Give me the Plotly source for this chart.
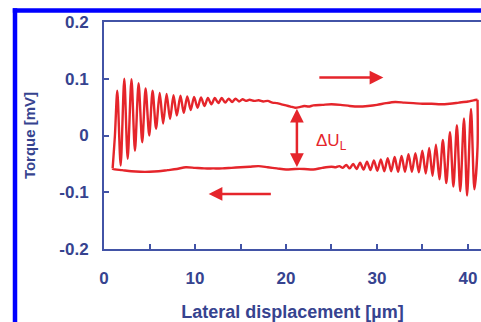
import plotly.graph_objects as go

# ---------------- data ----------------
# forward scan (upper branch), x in µm, torque in mV
fwd_x = [0.95, 1.2, 1.46, 1.83, 2.23, 2.6, 3.02, 3.4, 3.8, 4.2, 4.57, 4.97, 5.34, 5.72,
         6.12, 6.5, 6.88, 7.26, 7.64, 8.0, 8.4, 8.77, 9.15, 9.53, 9.9, 10.28, 10.66,
         11.04, 11.42, 11.8, 12.18, 12.56, 12.94, 13.32, 13.7, 14.08, 14.46, 14.84,
         15.22, 15.6, 16.0, 16.5, 17.0, 17.5, 18.0, 18.5, 19.0, 19.5, 20.0, 20.5, 21.0,
         21.5, 22.0, 22.5, 23.0, 24.0, 25.0, 26.0, 27.0, 28.0, 29.0, 30.0, 31.0, 32.0,
         33.0, 34.0, 35.0, 36.0, 37.0, 38.0, 39.0, 40.0, 40.6, 41.05]
fwd_y = [-0.058, 0.0, 0.079, -0.053, 0.100, -0.041, 0.099, -0.027, 0.092, -0.012, 0.083,
         0.0, 0.079, 0.012, 0.075, 0.021, 0.073, 0.029, 0.071, 0.035, 0.070, 0.040, 0.069,
         0.045, 0.068, 0.049, 0.067, 0.052, 0.066, 0.055, 0.066, 0.057, 0.066, 0.058,
         0.065, 0.059, 0.065, 0.060, 0.064, 0.061, 0.063, 0.061, 0.062, 0.060, 0.061,
         0.058, 0.057, 0.055, 0.053, 0.051, 0.049, 0.050, 0.052, 0.051, 0.053, 0.054,
         0.055, 0.054, 0.052, 0.051, 0.052, 0.054, 0.057, 0.059, 0.058, 0.057, 0.056,
         0.056, 0.055, 0.056, 0.058, 0.060, 0.062, 0.063]

# reverse scan (lower branch)
rev_x = [41.05, 41.05, 40.7, 40.33, 39.9, 39.56, 39.15, 38.78, 38.4, 38.02, 37.62, 37.24,
         36.86, 36.48, 36.1, 35.74, 35.36, 34.98, 34.6, 34.22, 33.84, 33.46, 33.08, 32.7,
         32.32, 31.94, 31.56, 31.18, 30.8, 30.42, 30.04, 29.66, 29.28, 28.9, 28.52, 28.14,
         27.76, 27.38, 27.0, 26.62, 26.24, 25.86, 25.48, 25.0, 24.0, 23.0, 22.0, 21.0,
         20.0, 19.0, 18.0, 17.0, 16.0, 15.0, 14.0, 13.0, 12.0, 11.0, 10.0, 9.0, 8.0, 7.0,
         6.0, 5.0, 4.0, 3.0, 2.0, 1.0, 0.95]
rev_y = [0.063, -0.02, -0.095, 0.047, -0.106, 0.030, -0.098, 0.018, -0.090, 0.006, -0.084,
         -0.008, -0.077, -0.016, -0.071, -0.022, -0.067, -0.027, -0.065, -0.031, -0.064,
         -0.033, -0.064, -0.036, -0.064, -0.038, -0.063, -0.040, -0.063, -0.042, -0.062,
         -0.044, -0.061, -0.046, -0.060, -0.048, -0.059, -0.050, -0.058, -0.052, -0.057,
         -0.054, -0.056, -0.055, -0.057, -0.060, -0.059, -0.059, -0.060, -0.058, -0.056,
         -0.054, -0.055, -0.056, -0.057, -0.058, -0.058, -0.058, -0.057, -0.056, -0.059,
         -0.061, -0.063, -0.064, -0.064, -0.063, -0.061, -0.059, -0.058]

x_tick_vals = [0, 10, 20, 30, 40]
x_tick_text = ["0", "10", "20", "30", "40"]
y_tick_vals = [-0.2, -0.1, 0, 0.1, 0.2]
y_tick_text = ["-0.2", "-0.1", "0", "0.1", "0.2"]

x_title = "Lateral displacement [µm]"
y_title = "Torque [mV]"
delta_label = "ΔU<sub>L</sub>"

# arrows (data coords): (tail_x, tail_y, head_x, head_y)
arrow_fwd = (23.5, 0.102, 30.7, 0.102)
arrow_rev = (18.5, -0.103, 11.5, -0.103)
arrow_gap = (21.2, -0.058, 21.2, 0.047)
label_pos = (23.1, -0.012)

# ---------------- style ----------------
RED = "#e5252b"
NAVY = "#36438f"
AXIS = "#4253a6"
FONT = "Liberation Sans, Arial, sans-serif"

W, H = 481, 322
L, T, B = 104, 22, 73
PW, PH = W - L, H - T - B

fig = go.Figure()
fig.add_trace(go.Scatter(x=fwd_x, y=fwd_y, mode="lines",
                         line=dict(color=RED, width=2.4, shape="spline", smoothing=0.8),
                         showlegend=False))
fig.add_trace(go.Scatter(x=rev_x, y=rev_y, mode="lines",
                         line=dict(color=RED, width=2.4, shape="spline", smoothing=0.8),
                         showlegend=False))

def arrow(t, both=False):
    d = dict(x=t[2], y=t[3], ax=t[0], ay=t[1], xref="x", yref="y", axref="x", ayref="y",
             text="", showarrow=True, arrowhead=2, arrowsize=1.1, arrowwidth=2.5,
             arrowcolor=RED, standoff=0, startstandoff=0)
    if both:
        d.update(arrowside="end+start", startarrowhead=2, startarrowsize=1.1)
    return d

# blue frame (page pixels -> paper coords)
def px_x(px):
    return (px - L) / PW

def px_y(py):
    return (T + PH - py) / PH

fig.update_layout(
    width=W, height=H,
    margin=dict(l=L, r=0, t=T, b=B, autoexpand=False),
    paper_bgcolor="white", plot_bgcolor="white",
    font=dict(family=FONT, color=NAVY),
    xaxis=dict(range=[0, 41.43], tickvals=x_tick_vals, ticktext=x_tick_text,
               automargin=False,
               showline=True, linecolor=AXIS, linewidth=2, mirror=True,
               ticks="inside", ticklen=5, tickwidth=1.5, tickcolor=AXIS,
               minor=dict(dtick=5, ticks="inside", ticklen=5, tickwidth=1.5, tickcolor=AXIS),
               showgrid=False, zeroline=False,
               tickfont=dict(size=17, weight="bold", color=NAVY),
               ticklabelstandoff=13,
               title=dict(text=x_title, font=dict(size=18, weight="bold", color=NAVY),
                          standoff=19)),
    yaxis=dict(range=[-0.2, 0.2], tickvals=y_tick_vals, ticktext=y_tick_text,
               automargin=False,
               showline=True, linecolor=AXIS, linewidth=2, mirror=False,
               ticks="inside", ticklen=5, tickwidth=1.5, tickcolor=AXIS,
               showgrid=False, zeroline=False,
               tickfont=dict(size=17, weight="bold", color=NAVY),
               ticklabelstandoff=10,
               title=dict(text=y_title, font=dict(size=15, weight="bold", color=NAVY),
                          standoff=20)),
    annotations=[
        arrow(arrow_fwd), arrow(arrow_rev), arrow(arrow_gap, both=True),
        dict(x=label_pos[0], y=label_pos[1], xref="x", yref="y", text=delta_label,
             showarrow=False, xanchor="left", yanchor="middle",
             font=dict(family=FONT, size=17, color=RED)),
    ],
    shapes=[
        dict(type="line", xref="paper", yref="paper", x0=px_x(15), x1=px_x(15),
             y0=px_y(8.3), y1=px_y(322), line=dict(color="#0000ff", width=4.5)),
        dict(type="line", xref="paper", yref="paper", x0=px_x(12.8), x1=px_x(481),
             y0=px_y(10.5), y1=px_y(10.5), line=dict(color="#0000ff", width=4.5)),
    ],
)

# the page's default 8px body margin would push the 481x322 figure out of the view
fig.write_html("out.html", config={"displayModeBar": False},
               post_script="document.body.style.margin='0';document.body.style.overflow='hidden';")
